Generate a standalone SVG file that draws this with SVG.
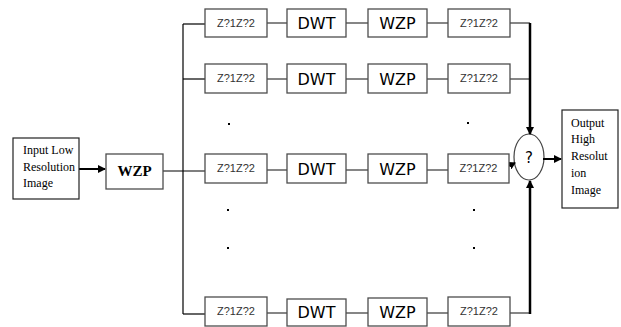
<svg xmlns="http://www.w3.org/2000/svg" width="621" height="327" viewBox="0 0 621 327">
<style>
.box{fill:#fff;stroke:#4d4d4d;stroke-width:1.3}
.lbox{fill:#fff;stroke:#222;stroke-width:1.2}
.z{font-family:"Liberation Sans",Arial,sans-serif;font-size:11px;fill:#333;text-anchor:middle}
.b{font-family:"DejaVu Sans","Liberation Sans",sans-serif;font-size:16px;fill:#000;text-anchor:middle}
.s{font-family:"Liberation Serif","Times New Roman",serif;font-size:12px;fill:#000}
.c{stroke:#444;stroke-width:1.3;fill:none}
.k{stroke:#000;stroke-width:1.2;fill:none}
.t{stroke:#000;stroke-width:2.5;fill:none}
.dot{fill:#000}
</style>
<defs>
<marker id="ah" markerWidth="8" markerHeight="8" refX="7" refY="4" orient="auto" markerUnits="userSpaceOnUse">
<path d="M0,0 L8,4 L0,8 Z" fill="#000"/>
</marker>
<marker id="ahs" markerWidth="7" markerHeight="8" refX="6" refY="4" orient="auto" markerUnits="userSpaceOnUse">
<path d="M0,0 L7,4 L0,8 Z" fill="#000"/>
</marker>
</defs>

<g id="sum">
<ellipse cx="529" cy="157" rx="15" ry="23" fill="#fff" stroke="#444" stroke-width="1.2"/>
<text x="529" y="163" style="font-family:'DejaVu Sans','Liberation Sans',sans-serif;font-size:15px;text-anchor:middle">?</text>
</g>

<g id="connectors">
<line class="t" x1="79" y1="169" x2="105" y2="169" marker-end="url(#ah)" style="stroke-width:2"/>
<line class="k" x1="163" y1="171" x2="205" y2="171"/>
<line class="k" x1="183" y1="24" x2="183" y2="314"/>
<line class="k" x1="183" y1="24" x2="205" y2="24"/>
<line class="k" x1="183" y1="79" x2="205" y2="79"/>
<line class="k" x1="183" y1="314" x2="205" y2="314"/>
<g class="c">
<line x1="267" y1="23" x2="287" y2="23"/><line x1="346" y1="23" x2="368" y2="23"/><line x1="427" y1="23" x2="448" y2="23"/><line x1="510" y1="23" x2="530" y2="23"/>
<line x1="267" y1="79" x2="287" y2="79"/><line x1="346" y1="79" x2="368" y2="79"/><line x1="427" y1="79" x2="448" y2="79"/><line x1="510" y1="79" x2="530" y2="79"/>
<line x1="267" y1="170" x2="287" y2="170"/><line x1="346" y1="170" x2="368" y2="170"/><line x1="427" y1="170" x2="448" y2="170"/>
<line x1="267" y1="313" x2="287" y2="313"/><line x1="346" y1="313" x2="368" y2="313"/><line x1="427" y1="313" x2="448" y2="313"/><line x1="510" y1="313" x2="530" y2="313"/>
</g>
<line class="t" x1="530" y1="23" x2="530" y2="134" marker-end="url(#ah)"/>
<line class="t" x1="530" y1="314" x2="530" y2="181" marker-end="url(#ah)"/>
<line class="t" x1="509" y1="166" x2="515" y2="163" marker-end="url(#ahs)" style="stroke-width:1.5"/>
<line class="t" x1="543" y1="159" x2="561" y2="159" marker-end="url(#ah)" style="stroke-width:2"/>
</g>

<g id="input">
<rect class="lbox" x="13" y="138" width="66" height="61"/>
<text class="s" x="23" y="154">Input Low</text>
<text class="s" x="23" y="171">Resolution</text>
<text class="s" x="23" y="187">Image</text>
</g>

<g id="wzp0">
<rect class="box" x="106" y="154" width="57" height="35"/>
<text x="134.5" y="176" style="font-family:'Liberation Serif','Times New Roman',serif;font-size:15px;font-weight:bold;text-anchor:middle">WZP</text>
</g>

<g id="row1">
<rect class="box" x="205" y="9" width="62" height="28"/><text class="z" x="236" y="27">Z?1Z?2</text>
<rect class="box" x="287" y="9" width="59" height="28"/><text class="b" x="316.5" y="29">DWT</text>
<rect class="box" x="368" y="9" width="59" height="28"/><text class="b" x="397.5" y="29">WZP</text>
<rect class="box" x="448" y="9" width="62" height="28"/><text class="z" x="479" y="27">Z?1Z?2</text>
</g>

<g id="row2">
<rect class="box" x="205" y="64" width="62" height="29"/><text class="z" x="236" y="82">Z?1Z?2</text>
<rect class="box" x="287" y="64" width="59" height="29"/><text class="b" x="316.5" y="85">DWT</text>
<rect class="box" x="368" y="64" width="59" height="29"/><text class="b" x="397.5" y="85">WZP</text>
<rect class="box" x="448" y="64" width="62" height="29"/><text class="z" x="479" y="82">Z?1Z?2</text>
</g>

<g id="row3">
<rect class="box" x="205" y="154" width="62" height="29"/><text class="z" x="236" y="172">Z?1Z?2</text>
<rect class="box" x="287" y="154" width="59" height="29"/><text class="b" x="316.5" y="175">DWT</text>
<rect class="box" x="368" y="154" width="59" height="29"/><text class="b" x="397.5" y="175">WZP</text>
<rect class="box" x="448" y="154" width="61" height="29"/><text class="z" x="478.5" y="172">Z?1Z?2</text>
</g>

<g id="row4">
<rect class="box" x="205" y="297" width="62" height="29"/><text class="z" x="236" y="315">Z?1Z?2</text>
<rect class="box" x="287" y="299" width="59" height="27"/><text class="b" x="316.5" y="318">DWT</text>
<rect class="box" x="368" y="298" width="59" height="28"/><text class="b" x="397.5" y="318">WZP</text>
<rect class="box" x="448" y="297" width="62" height="29"/><text class="z" x="479" y="315">Z?1Z?2</text>
</g>

<g id="dots">
<rect class="dot" x="228" y="123" width="2" height="2"/>
<rect class="dot" x="467" y="122" width="2" height="2"/>
<rect class="dot" x="227" y="209" width="2" height="2"/>
<rect class="dot" x="227" y="247" width="2" height="2"/>
<rect class="dot" x="473" y="209" width="2" height="2"/>
<rect class="dot" x="473" y="247" width="2" height="2"/>
</g>

<g id="output">
<rect class="lbox" x="562" y="110" width="56" height="98"/>
<text class="s" x="571" y="127">Output</text>
<text class="s" x="571" y="143">High</text>
<text class="s" x="571" y="160">Resolut</text>
<text class="s" x="571" y="177">ion</text>
<text class="s" x="571" y="194">Image</text>
</g>
</svg>
